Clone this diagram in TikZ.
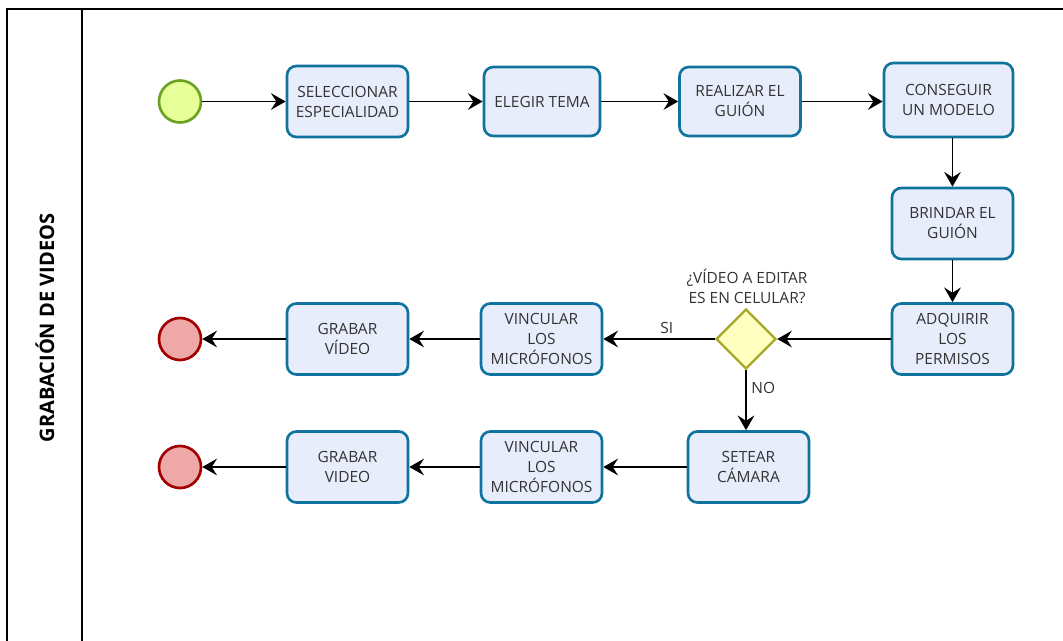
\documentclass[tikz,border=0pt]{standalone}
\usepackage{fontspec}
\setmainfont{Open Sans}
\usetikzlibrary{shapes.geometric}
\usetikzlibrary{arrows.meta}

\begin{document}
\begin{tikzpicture}[x=0.75pt,y=0.75pt,yscale=-1,
  texto/.style={font=\fontsize{11.6}{15}\selectfont, text={rgb, 255:red, 51; green, 51; blue, 51 }, align=center},
  tarea/.style={texto, draw={rgb, 255:red, 16; green, 115; blue, 158 }, fill={rgb, 255:red, 232; green, 237; blue, 252 }, line width=2pt, rounded corners=7pt, minimum width=90.75pt, minimum height=53.25pt, inner sep=2pt},
  inicio/.style={circle, draw={rgb, 255:red, 106; green, 163; blue, 34 }, fill={rgb, 255:red, 230; green, 255; blue, 153 }, line width=2pt, minimum size=31.5pt, inner sep=0pt},
  fin/.style={circle, draw={rgb, 255:red, 162; green, 0; blue, 0 }, fill={rgb, 255:red, 238; green, 168; blue, 168 }, line width=2pt, minimum size=31.5pt, inner sep=0pt},
  decision/.style={diamond, draw={rgb, 255:red, 168; green, 168; blue, 40 }, fill={rgb, 255:red, 255; green, 255; blue, 192 }, line width=1.8pt, minimum width=45pt, minimum height=45pt, inner sep=0pt},
  flecha/.style={line width=1.4pt, -{Stealth[length=11pt, width=12.5pt, inset=4pt]}}
]
\useasboundingbox (0,0) rectangle (1063,641);
\clip (0,0) rectangle (1063,641);

%Shape: Pool
\draw [line width=1.1pt] (7,9) rectangle (1080,670);
\draw [line width=1.1pt] (82,9) -- (82,670);
\node [rotate=90, font=\bfseries\fontsize{15}{18}\selectfont] (carril) at (45,328) {GRABACIÓN DE VIDEOS};

%Shape: Events and tasks
\node [inicio] (ini) at (180,101.5) {};
\node [tarea] (selec) at (347.5,101.5) {SELECCIONAR\\ESPECIALIDAD};
\node [tarea, minimum width=87pt, minimum height=51.75pt] (tema) at (542,101.5) {ELEGIR TEMA};
\node [tarea, minimum height=51.75pt] (guion) at (740,101.5) {REALIZAR EL\\GUIÓN};
\node [tarea, minimum width=96.75pt, minimum height=55.5pt] (modelo) at (948.5,100) {CONSEGUIR\\UN MODELO};
\node [tarea] (brindar) at (952.5,223.5) {BRINDAR EL\\GUIÓN};
\node [tarea] (permisos) at (952.5,339) {ADQUIRIR\\LOS\\PERMISOS};
\node [decision] (celular) at (746,339) {};
\node [texto] (pregunta) at (747,286) {¿VÍDEO A EDITAR\\ES EN CELULAR?};
\node [tarea] (micro1) at (541.5,339) {VINCULAR\\LOS\\MICRÓFONOS};
\node [tarea] (grabar1) at (347.5,339) {GRABAR\\VÍDEO};
\node [fin] (fin1) at (180,339) {};
\node [tarea] (setear) at (748.5,467) {SETEAR\\CÁMARA};
\node [tarea] (micro2) at (541.5,467) {VINCULAR\\LOS\\MICRÓFONOS};
\node [tarea] (grabar2) at (347.5,467) {GRABAR\\VIDEO};
\node [fin] (fin2) at (180,467) {};

%Straight Lines
\draw [flecha] (ini) -- (selec);
\draw [flecha] (selec) -- (tema);
\draw [flecha] (tema) -- (guion);
\draw [flecha] (guion) -- (guion -| modelo.west);
\draw [flecha] (modelo.south -| brindar.north) -- (brindar.north);
\draw [flecha] (brindar) -- (permisos);
\draw [flecha] (permisos) -- (celular);
\draw [flecha] (celular) -- node [texto, pos=0.43, above] {SI} (micro1);
\draw [flecha] (celular) -- node [texto, pos=0.3, right] {NO} (celular |- setear.north);
\draw [flecha] (micro1) -- (grabar1);
\draw [flecha] (grabar1) -- (fin1);
\draw [flecha] (setear) -- (micro2);
\draw [flecha] (micro2) -- (grabar2);
\draw [flecha] (grabar2) -- (fin2);

\end{tikzpicture}
\end{document}
